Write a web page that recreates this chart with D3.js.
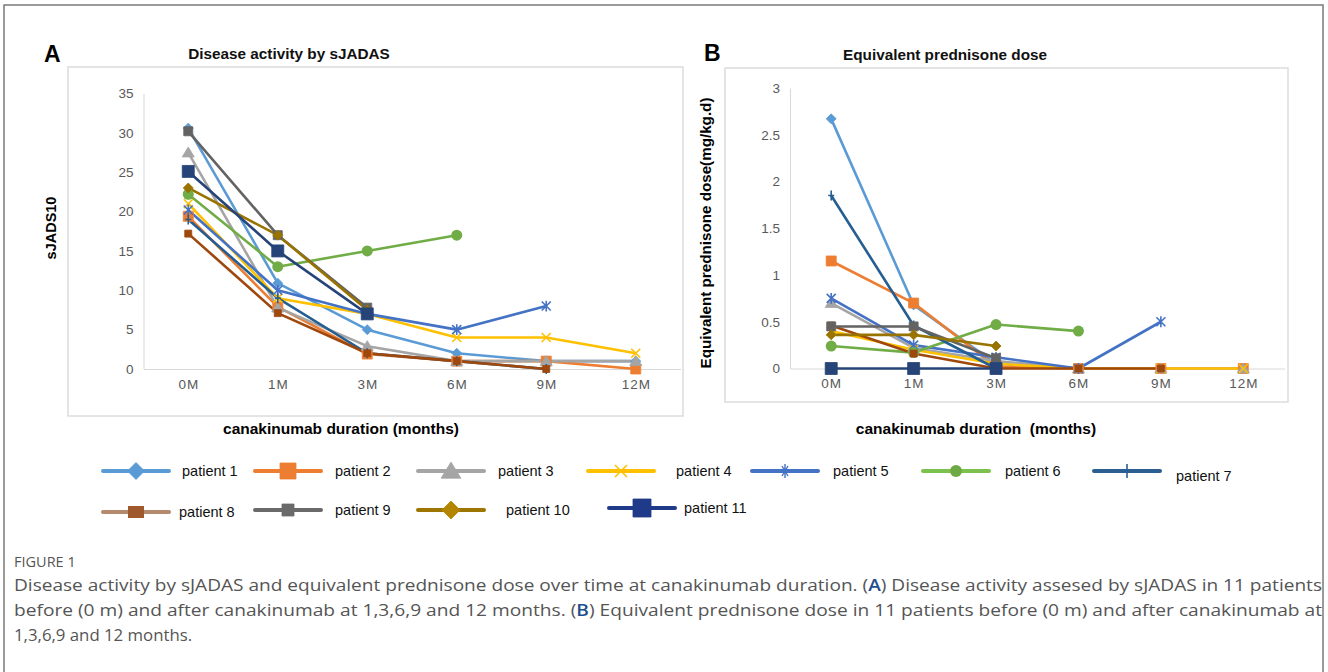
<!DOCTYPE html>
<html>
<head>
<meta charset="utf-8">
<script src="https://cdn.jsdelivr.net/npm/d3@7"></script>
<style>
  body { margin: 0; background: #fff; }
  svg { display: block; }
  text { font-family: "Liberation Sans", Arial, Helvetica, sans-serif; }
  .cap { font-family: "Open Sans", "Noto Sans", sans-serif; }
</style>
</head>
<body>
<svg id="fig" width="1328" height="672"></svg>
<script>
// ---------- data ----------
const months = ["0M", "1M", "3M", "6M", "9M", "12M"];
const patients = ["patient 1","patient 2","patient 3","patient 4","patient 5","patient 6",
                  "patient 7","patient 8","patient 9","patient 10","patient 11"];

// Panel A: sJADAS10
const sjadas_p1  = [30.6, 10.9, 5.0, 2.0, 1.0, 1.0];
const sjadas_p2  = [19.4, 7.9, 1.9, 1.0, 1.0, 0];
const sjadas_p3  = [27.5, 7.8, 2.9, 1.0, 1.0, 1.0];
const sjadas_p4  = [21.0, 9.0, 7.0, 4.0, 4.0, 2.0];
const sjadas_p5  = [20.2, 10.0, 7.0, 5.0, 8.0, null];
const sjadas_p6  = [22.2, 13.0, 15.0, 17.0, null, null];
const sjadas_p7  = [19.0, 9.0, 2.0, 1.0, 0, null];
const sjadas_p8  = [17.2, 7.1, 2.0, 1.0, 0, null];
const sjadas_p9  = [30.2, 17.0, 7.8, null, null, null];
const sjadas_p10 = [23.0, 17.0, 7.5, null, null, null];
const sjadas_p11 = [25.1, 15.0, 7.0, null, null, null];

// Panel B: equivalent prednisone dose (mg/kg.d)
const pred_p1  = [2.67, 0.68, 0.05, 0, null, null];
const pred_p2  = [1.15, 0.70, 0.02, 0, 0, 0];
const pred_p3  = [0.70, 0.22, 0.08, 0, 0, 0];
const pred_p4  = [0.40, 0.20, 0.05, 0, 0, 0];
const pred_p5  = [0.75, 0.25, 0.12, 0, 0.50, null];
const pred_p6  = [0.24, 0.17, 0.47, 0.40, null, null];
const pred_p7  = [1.85, 0.46, 0, null, null, null];
const pred_p8  = [0.46, 0.16, 0, 0, 0, null];
const pred_p9  = [0.45, 0.45, 0.11, null, null, null];
const pred_p10 = [0.36, 0.36, 0.24, null, null, null];
const pred_p11 = [0, 0, 0, null, null, null];

const yTicksA = [0, 5, 10, 15, 20, 25, 30, 35];
const yTicksB = [0, 0.5, 1, 1.5, 2, 2.5, 3];

const colors  = ["#5B9BD5","#ED7D31","#A5A5A5","#FFC000","#4472C4","#70AD47",
                 "#255E91","#9E480E","#636363","#997300","#264478"];
const legendLineColors = ["#5B9BD5","#ED7D31","#A5A5A5","#FFC000","#4472C4","#7CC04E",
                 "#2B5F91","#B38A6D","#6A6A6A","#9C7600","#1E3A88"];
const markers = ["diamond","square","triangle","x","asterisk","circle","plus","square","square","diamond","square"];
const markerSize = [5, 5, 5.5, 4.5, 4.5, 5.5, 5, 3.5, 4.5, 5, 6];

const captionLines = [
  "Disease activity by sJADAS and equivalent prednisone dose over time at canakinumab duration. (A) Disease activity assesed by sJADAS in 11 patients",
  "before (0 m) and after canakinumab at 1,3,6,9 and 12 months. (B) Equivalent prednisone dose in 11 patients before (0 m) and after canakinumab at",
  "1,3,6,9 and 12 months."
];

const seriesA = [sjadas_p1,sjadas_p2,sjadas_p3,sjadas_p4,sjadas_p5,sjadas_p6,sjadas_p7,sjadas_p8,sjadas_p9,sjadas_p10,sjadas_p11];
const seriesB = [pred_p1,pred_p2,pred_p3,pred_p4,pred_p5,pred_p6,pred_p7,pred_p8,pred_p9,pred_p10,pred_p11];

// ---------- drawing ----------
const svg = d3.select("#fig");

// outer frame
svg.append("rect").attr("x", 4).attr("y", 5).attr("width", 1319).attr("height", 700)
  .attr("fill", "none").attr("stroke", "#7a7a7a").attr("stroke-width", 1.5);

function markerPath(type, s) {
  switch (type) {
    case "diamond": return `M0,${-s}L${s},0L0,${s}L${-s},0Z`;
    case "square": return `M${-s},${-s}H${s}V${s}H${-s}Z`;
    case "triangle": return `M0,${-s}L${s*1.1},${s*0.8}L${-s*1.1},${s*0.8}Z`;
    case "x": return `M${-s},${-s}L${s},${s}M${s},${-s}L${-s},${s}`;
    case "asterisk": return `M${-s},${-s}L${s},${s}M${s},${-s}L${-s},${s}M0,${-s*1.2}V${s*1.2}`;
    case "plus": return `M0,${-s}V${s}M${-s*0.6},0H${s*0.6}`;
  }
  return null;
}
function drawMarker(g, type, s, color, x, y) {
  if (type === "circle") {
    g.append("circle").attr("cx", x).attr("cy", y).attr("r", s).attr("fill", color);
    return;
  }
  const open = (type === "x" || type === "asterisk" || type === "plus");
  g.append("path").attr("d", markerPath(type, s))
    .attr("transform", `translate(${x},${y})`)
    .attr("fill", open ? "none" : color)
    .attr("stroke", color).attr("stroke-width", open ? 1.6 : 0.8);
}

function panel(opts) {
  const g = svg.append("g");
  // panel box
  g.append("rect").attr("x", opts.box[0]).attr("y", opts.box[1])
    .attr("width", opts.box[2] - opts.box[0]).attr("height", opts.box[3] - opts.box[1])
    .attr("fill", "none").attr("stroke", "#dcdcdc").attr("stroke-width", 1.5);

  const x = d3.scalePoint().domain(months).range(opts.xr).padding(0.5);
  const y = d3.scaleLinear().domain(opts.yd).range(opts.yr);

  // y axis
  const ya = g.append("g").attr("transform", `translate(${opts.xr[0]},0)`)
    .call(d3.axisLeft(y).tickValues(opts.yTicks).tickSize(0).tickPadding(10).tickFormat(d => String(d)));
  ya.select(".domain").attr("stroke", "#d9d9d9").attr("stroke-width", 1);
  ya.selectAll("text").attr("font-size", 13.5).attr("fill", "#595959")
    .attr("font-family", '"Liberation Sans", Arial, sans-serif');

  // x axis
  const xa = g.append("g").attr("transform", `translate(0,${opts.yr[0]})`)
    .call(d3.axisBottom(x).tickSize(0).tickPadding(10));
  xa.select(".domain").attr("stroke", "#d9d9d9").attr("stroke-width", 1.2);
  xa.selectAll("text").attr("font-size", 13.5).attr("fill", "#595959")
    .attr("letter-spacing", 1)
    .attr("font-family", '"Liberation Sans", Arial, sans-serif');

  // lines
  const line = d3.line().defined(d => d.v !== null).x(d => x(d.m)).y(d => y(d.v));
  opts.series.forEach((vals, i) => {
    const pts = vals.map((v, j) => ({ m: months[j], v }));
    g.append("path").datum(pts).attr("d", line)
      .attr("fill", "none").attr("stroke", colors[i]).attr("stroke-width", 2.6)
      .attr("stroke-linejoin", "round");
  });
  opts.series.forEach((vals, i) => {
    vals.forEach((v, j) => {
      if (v === null) return;
      drawMarker(g, markers[i], markerSize[i], colors[i], x(months[j]), y(v));
    });
  });

  // titles
  g.append("text").attr("x", opts.letter[0]).attr("y", opts.letter[1])
    .attr("font-size", 23).attr("font-weight", "bold").attr("fill", "#000").text(opts.letterText);
  g.append("text").attr("x", opts.title[0]).attr("y", opts.title[1]).attr("text-anchor", "middle")
    .attr("font-size", 15.3).attr("font-weight", "bold").attr("fill", "#111").text(opts.titleText);
  g.append("text").attr("x", opts.xTitle[0]).attr("y", opts.xTitle[1]).attr("text-anchor", "middle")
    .attr("font-size", 15.5).attr("font-weight", "bold").attr("fill", "#000")
    .attr("xml:space", "preserve").style("white-space", "pre").text(opts.xTitleText);
  g.append("text").attr("transform", `translate(${opts.yTitle[0]},${opts.yTitle[1]}) rotate(-90)`)
    .attr("text-anchor", "middle").attr("font-size", opts.yTitleSize).attr("font-weight", "bold").attr("fill", "#000")
    .text(opts.yTitleText);
}

panel({
  box: [68, 67, 683, 416],
  xr: [143.5, 680.5], yd: [0, 35], yr: [369, 93.5], yTicks: yTicksA,
  series: seriesA,
  letter: [44, 62], letterText: "A",
  title: [289, 59], titleText: "Disease activity by sJADAS",
  xTitle: [341, 434], xTitleText: "canakinumab duration (months)",
  yTitle: [56, 228], yTitleText: "sJADS10", yTitleSize: 14.5
});

panel({
  box: [725, 68, 1288, 402],
  xr: [790, 1284.5], yd: [0, 3], yr: [368.5, 88], yTicks: yTicksB,
  series: seriesB,
  letter: [704, 61], letterText: "B",
  title: [945, 60], titleText: "Equivalent prednisone dose",
  xTitle: [976, 434], xTitleText: "canakinumab duration  (months)",
  yTitle: [711, 233], yTitleText: "Equivalent prednisone dose(mg/kg.d)", yTitleSize: 15.2
});

// ---------- legend ----------
const legendPos = [
  [103, 471, 182], [255, 471, 335], [418, 471, 498], [588, 471, 676],
  [752, 471, 833], [923, 471, 1005], [1094, 471, 1176],
  [103, 512, 179], [255, 510, 335], [418, 510, 506], [609, 508, 684]
];
const legendMarkerSize = [8.5, 8, 9, 6, 6, 6, 7, 7, 6, 9, 9];
const legendMarkerColor = ["#5B9BD5","#ED7D31","#A5A5A5","#FFC000","#4472C4","#6DAA45",
                 "#2B5F91","#A0582D","#6A6A6A","#B48600","#1E3A88"];
const lg = svg.append("g");
patients.forEach((p, i) => {
  const [lx, ly, tx] = legendPos[i];
  lg.append("line").attr("x1", lx).attr("x2", lx + 66).attr("y1", ly).attr("y2", ly)
    .attr("stroke", legendLineColors[i]).attr("stroke-width", 4).attr("stroke-linecap", "round");
  let mt = markers[i];
  let s = legendMarkerSize[i];
  if (i === 7) {
    lg.append("rect").attr("x", lx + 33 - 8).attr("y", ly - 6).attr("width", 16).attr("height", 12)
      .attr("fill", legendMarkerColor[i]);
  } else if (i === 6) {
    lg.append("line").attr("x1", lx + 33).attr("x2", lx + 33).attr("y1", ly - 7).attr("y2", ly + 7)
      .attr("stroke", legendMarkerColor[i]).attr("stroke-width", 1.6);
  } else if (i === 4) {
    lg.append("path").attr("d", "M-3,-5L3,5M3,-5L-3,5M0,-7V7")
      .attr("transform", `translate(${lx + 33},${ly})`)
      .attr("fill", "none").attr("stroke", legendMarkerColor[i]).attr("stroke-width", 1.4);
  } else {
    drawMarker(lg, mt, s, legendMarkerColor[i], lx + 33, ly);
  }
  const ty = (i === 6) ? ly + 5 : ly;
  lg.append("text").attr("x", tx).attr("y", ty).attr("dy", "0.35em")
    .attr("font-size", 14.5).attr("fill", "#111").text(p);
});

// ---------- caption ----------
const cap = svg.append("g").attr("class", "cap");
cap.append("text").attr("class", "cap").attr("x", 14).attr("y", 567)
  .attr("font-size", 14.5).attr("fill", "#555").text("FIGURE 1");
const capY = [591, 616, 641];
captionLines.forEach((t, i) => {
  const tx = cap.append("text").attr("class", "cap").attr("x", 14).attr("y", capY[i])
    .attr("font-size", 16.8).attr("fill", "#555");
  if (i < 2) tx.attr("textLength", 1308).attr("lengthAdjust", "spacingAndGlyphs");
  const parts = t.split(/(\([AB]\))/);
  parts.forEach(pt => {
    if (pt === "(A)" || pt === "(B)") {
      tx.append("tspan").text("(");
      tx.append("tspan").attr("fill", "#1f4e8c").attr("font-weight", 600).text(pt[1]);
      tx.append("tspan").text(")");
    } else {
      tx.append("tspan").text(pt);
    }
  });
});
</script>
</body>
</html>
